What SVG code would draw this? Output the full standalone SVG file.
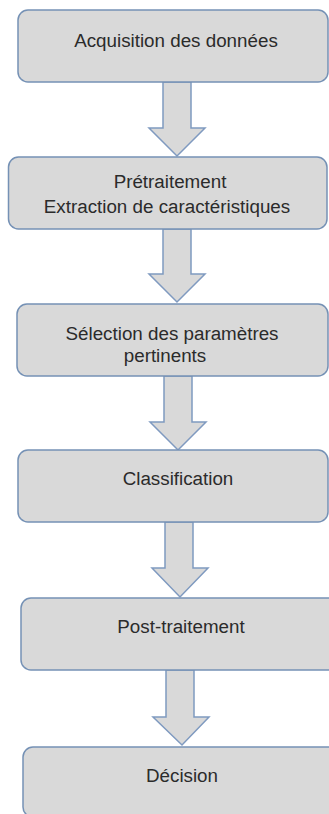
<svg xmlns="http://www.w3.org/2000/svg" width="329" height="814" viewBox="0 0 329 814">
<style>
.box{fill:#d9d9d9;stroke:#7591b5;stroke-width:1.5}
.arr{fill:#d9d9d9;stroke:#7f9ac0;stroke-width:1.5;stroke-linejoin:miter}
.t{font-family:"Liberation Sans",Arial,sans-serif;font-size:18.8px;fill:#2b2b2b;text-anchor:middle}
</style>
<rect width="329" height="814" fill="#ffffff"/>
<g id="connectors">
<path class="arr" d="M163,82 L191,82 L191,128 L205,128 L177,156 L149,128 L163,128 Z"/>
<path class="arr" d="M163,229 L191,229 L191,274 L205,274 L177,302 L149,274 L163,274 Z"/>
<path class="arr" d="M164,376 L192,376 L192,422 L206,422 L178,450 L150,422 L164,422 Z"/>
<path class="arr" d="M165,522 L193,522 L193,568 L208,568 L180,597 L152,568 L165,568 Z"/>
<path class="arr" d="M166,670 L194,670 L194,717 L209,717 L182,745 L153,717 L166,717 Z"/>
</g>
<g id="n1">
<rect class="box" x="18" y="10" width="310" height="72" rx="10"/>
<text class="t" x="176" y="47">Acquisition des données</text>
</g>
<g id="n2">
<rect class="box" x="8.5" y="157" width="318.5" height="72" rx="10"/>
<text class="t" x="170" y="188">Prétraitement</text>
<text class="t" x="167" y="213">Extraction de caractéristiques</text>
</g>
<g id="n3">
<rect class="box" x="17" y="304" width="311" height="72" rx="10"/>
<text class="t" x="172" y="340">Sélection des paramètres</text>
<text class="t" x="165" y="362">pertinents</text>
</g>
<g id="n4">
<rect class="box" x="18" y="450" width="310" height="72" rx="10"/>
<text class="t" x="178" y="485">Classification</text>
</g>
<g id="n5">
<rect class="box" x="21" y="598" width="320" height="72" rx="10"/>
<text class="t" x="181" y="633">Post-traitement</text>
</g>
<g id="n6">
<rect class="box" x="23" y="747" width="320" height="70" rx="10"/>
<text class="t" x="182" y="782">Décision</text>
</g>
</svg>
